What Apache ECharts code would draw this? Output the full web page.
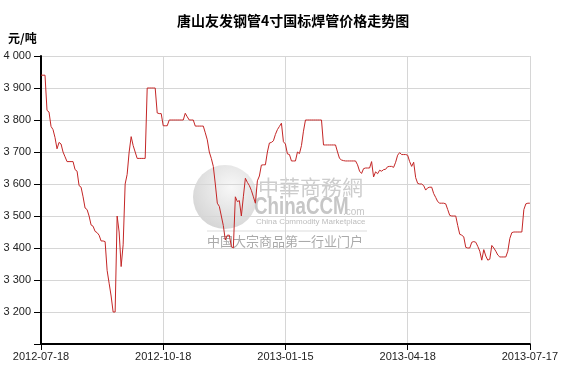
<!DOCTYPE html>
<html><head><meta charset="utf-8">
<script src="https://cdn.jsdelivr.net/npm/echarts@6/dist/echarts.min.js"></script>
<style>html,body{margin:0;padding:0;background:#fff}#c{width:561px;height:376px}</style>
</head><body><div id="c"></div>
<script>
var titleText = '唐山友发钢管4寸国标焊管价格走势图';
var unitText = '元/吨';
var tickLabels = ['2012-07-18','2012-10-18','2013-01-15','2013-04-18','2013-07-17'];
var prices = [
3940,3940,3940,3830,3825,3780,3770,3745,3710,3730,
3725,3700,3685,3670,3670,3670,3670,3645,3640,3595,
3590,3560,3525,3520,3500,3472,3468,3452,3448,3440,
3422,3422,3420,3330,3290,3250,3200,3200,3500,3450,
3342,3410,3600,3630,3700,3748,3720,3700,3680,3680,
3680,3680,3680,3900,3900,3900,3900,3900,3822,3820,
3820,3782,3782,3782,3800,3800,3800,3800,3800,3800,
3800,3800,3821,3810,3800,3800,3800,3781,3781,3781,
3781,3781,3760,3738,3700,3680,3655,3600,3540,3530,
3500,3470,3425,3440,3440,3405,3400,3560,3545,3548,
3500,3560,3618,3605,3595,3580,3560,3540,3610,3625,
3659,3660,3660,3700,3728,3730,3735,3755,3770,3780,
3790,3732,3725,3694,3692,3672,3672,3672,3700,3695,
3720,3765,3800,3800,3800,3800,3800,3800,3800,3800,
3800,3722,3722,3722,3722,3722,3722,3722,3700,3680,
3675,3673,3672,3672,3672,3672,3672,3672,3660,3640,
3633,3648,3650,3650,3650,3670,3622,3638,3632,3643,
3640,3645,3646,3654,3655,3655,3652,3668,3690,3698,
3692,3692,3692,3690,3670,3655,3668,3620,3602,3600,
3600,3595,3581,3588,3590,3590,3570,3558,3545,3540,
3540,3540,3538,3520,3502,3500,3500,3500,3470,3443,
3440,3435,3402,3400,3400,3418,3420,3418,3405,3390,
3362,3395,3375,3362,3365,3408,3400,3390,3378,3372,
3372,3372,3372,3390,3430,3448,3450,3450,3450,3450,
3450,3520,3538,3540,3540
];
var yMin = 3100, yMax = 4000, yStep = 100;
var lastIdx = prices.length - 1;
var xStep = lastIdx / (tickLabels.length - 1);
var seriesData = prices.map(function (v, i) { return [i, v]; });
var LF = '"Liberation Sans", Arial, sans-serif';
var CJK = '"Noto Sans CJK SC", sans-serif';

var chart = echarts.init(document.getElementById('c'), null, {renderer: 'canvas'});
chart.setOption({
  animation: false,
  backgroundColor: '#fff',
  title: {
    text: titleText, left: 172, top: 9,
    textStyle: {fontFamily: CJK, fontSize: 14, fontWeight: 'bold', color: '#000'}
  },
  grid: {left: 41, right: 31, top: 56, bottom: 32, containLabel: false},
  xAxis: {
    type: 'value', min: 0, max: lastIdx, interval: xStep,
    axisLine: {show: true, lineStyle: {color: '#000', width: 2}},
    axisTick: {show: true, length: 6, lineStyle: {color: '#000', width: 1}},
    axisLabel: {
      margin: 7, color: '#222', fontFamily: LF, fontSize: 11,
      formatter: function (v) { return tickLabels[Math.round(v / xStep)] || ''; }
    },
    splitLine: {show: true, lineStyle: {color: '#d6d6d6', width: 1}}
  },
  yAxis: {
    type: 'value', min: yMin, max: yMax, interval: yStep,
    axisLine: {show: true, lineStyle: {color: '#000', width: 2}},
    axisTick: {show: true, length: 7, lineStyle: {color: '#000', width: 1}},
    axisLabel: {
      margin: 10, color: '#222', fontFamily: LF, fontSize: 11,
      formatter: function (v) {
        if (v === yMin) return '';
        var s = String(v);
        return s.slice(0, s.length - 3) + ' ' + s.slice(-3);
      }
    },
    splitLine: {show: true, lineStyle: {color: '#d6d6d6', width: 1}}
  },
  graphic: [
    {type: 'text', left: 8, top: 32, z: 10,
     style: {text: unitText, font: 'bold 12px ' + CJK, fill: '#000'}},
    {type: 'circle', z: 0, shape: {cx: 225, cy: 197, r: 32},
     style: {fill: new echarts.graphic.RadialGradient(0.6, 0.35, 0.8, [
       {offset: 0, color: '#f6f6f6'}, {offset: 1, color: '#c4c4c4'}]), opacity: 0.8}},
    {type: 'text', z: 0, x: 258, y: 177,
     style: {text: '中華商務網', font: '21px "Noto Sans CJK TC", sans-serif', fill: '#cdcdcd'}},
    {type: 'text', z: 0, x: 254, y: 195, scaleX: 0.78,
     style: {text: 'ChinaCCM', font: 'bold 24px ' + LF, fill: '#c6c6c6'}},
    {type: 'text', z: 0, x: 343, y: 207,
     style: {text: '.com', font: '10px ' + LF, fill: '#c6c6c6'}},
    {type: 'text', z: 0, x: 256, y: 218,
     style: {text: 'China Commodity Marketplace', font: '8px ' + LF, fill: '#bdbdbd'}},
    {type: 'line', z: 0, shape: {x1: 207, y1: 231, x2: 367, y2: 231},
     style: {stroke: '#dddddd', lineWidth: 1}},
    {type: 'text', z: 0, x: 207, y: 235,
     style: {text: '中国大宗商品第一行业门户', font: '13px ' + CJK, fill: '#aaaaaa'}}
  ],
  series: [{
    type: 'line', data: seriesData, showSymbol: false, symbol: 'none', z: 5,
    lineStyle: {color: '#c42626', width: 1}
  }]
});
</script></body></html>
